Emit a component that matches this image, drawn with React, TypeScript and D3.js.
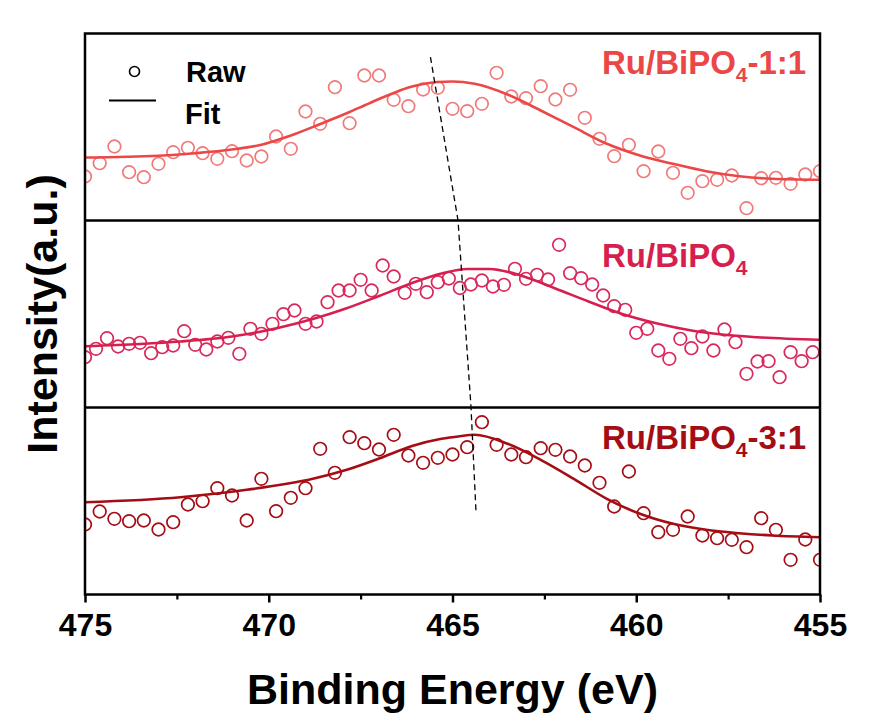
import React, { useEffect, useRef } from 'react';
import * as d3 from 'd3';

const W = 869;
const H = 722;

// ---- axis / ticks ----
const xDomain: [number, number] = [475, 455];
const majorTicks = [475, 470, 465, 460, 455];
const minorTicks = [472.5, 467.5, 462.5, 457.5];

// ---- raw data (binding energy grids) ----
const topStart = 475, topStep = 0.4;
const midStart = 475, midStep = 0.3;
const botStart = 475, botStep = 0.4;

// Ru/BiPO4-1:1 raw intensities (a.u.)
const topRaw = [44, 57.3, 74, 48.3, 43.3, 56.7, 68.3, 72.7, 67.3, 61.7, 69.3, 60, 64, 84, 71.7, 109, 96.7, 133.3, 97.3, 145, 145, 120.7, 114.3, 131, 132.7, 111.7, 109.3, 116.7, 147.7, 124, 122.3, 134.3, 121, 130.7, 102.7, 81.7, 64.3, 75.7, 49.3, 69, 47.7, 27.7, 39.3, 40.7, 45, 12.3, 42.3, 42.7, 36.7, 46, 49.3];
// Ru/BiPO4 raw intensities
const midRaw = [50.3, 58.7, 69.3, 61, 63.7, 64.7, 54.3, 60.3, 62, 76.3, 62.7, 58, 66, 69.7, 53.7, 78.7, 73.7, 83.7, 93.3, 97, 83.7, 86, 105.3, 117, 117, 127.7, 117, 142, 131, 114.7, 123.7, 115.3, 125.3, 129, 119.5, 123, 127, 121, 122.7, 138.7, 128.7, 132.7, 128, 162.7, 134.3, 129.3, 123, 112, 101.3, 97.7, 74.7, 78.7, 57, 48.7, 68.7, 59.3, 71, 57, 78, 65.3, 33.7, 46, 46.3, 30.3, 55.3, 46.3, 55.3];
// Ru/BiPO4-3:1 raw intensities
const botRaw = [70, 83, 75.7, 73.3, 74, 65, 72.3, 90, 93.3, 106.3, 99, 74, 115.7, 83.3, 96.7, 106.3, 145.7, 121.7, 157.3, 151.3, 145, 159.7, 139, 131.7, 136.7, 140, 147.3, 172.3, 149.7, 140, 137.3, 146.3, 144.7, 138, 129, 111.7, 88, 123, 81.3, 62.3, 64.7, 78, 59, 56.3, 54.7, 47.3, 76.3, 64.7, 34.7, 55, 34.7];

// ---- fit curves ----
const topFitE = [475, 473, 472, 471, 470.2, 469.4, 468.6, 467.8, 467.4, 467, 466.6, 466.2, 465.8, 465.4, 465, 464.4, 463.5, 462.6, 461.7, 460.8, 459.9, 459, 458.1, 457.2, 456.3, 455];
const topFitV = [63, 64.8, 67.3, 71, 75.8, 85, 96.5, 108.5, 115, 121.5, 127.5, 133, 136.5, 138.5, 139, 136.7, 126, 110, 93.3, 76.7, 65, 56.7, 49.3, 44.3, 41.7, 40.7];
const midFitE = [475, 473.5, 472.4, 471, 470.2, 469.7, 468.8, 467.9, 467, 466.1, 465.3, 464.6, 464, 463.1, 462.2, 461.3, 460.4, 459.4, 458.5, 457.6, 456.7, 455];
const midFitV = [61.3, 63.5, 66, 71, 76, 80, 88.5, 99, 111.5, 124.5, 134, 138.5, 138.5, 131.5, 119, 106, 93.7, 83.7, 77, 72.7, 70.3, 67.7];
const botFitE = [475, 472.4, 470.6, 468.8, 467.9, 467, 466.1, 465.3, 464.8, 464.4, 463.5, 462.6, 461.7, 460.8, 459.9, 459, 458.1, 457.2, 456.3, 455];
const botFitV = [92.3, 97.3, 104.7, 115.7, 124.5, 136, 148.5, 155.7, 158.3, 159.7, 150.7, 134.7, 115.7, 95.7, 80.7, 70.7, 64.7, 61.3, 59, 57.3];

// ---- peak shift guide ----
const dashE = [465.6, 464.85, 464.5, 464.36];
const dashFrac = [0.958, 0.667, 0.338, 0.147];

// ---- labels ----
const labelMain = ['Ru/BiPO', 'Ru/BiPO', 'Ru/BiPO'];
const labelSub = ['4', '4', '4'];
const labelSuffix = ['-1:1', '', '-3:1'];
const lineColors = ['#ec4747', '#d61f4f', '#a50d15'];
const dotColors = ['#f07a7a', '#d9295a', '#a50d15'];

const FONT = '"Liberation Sans", Arial, Helvetica, sans-serif';

const L = 85, R = 820, T = 33.5, B = 594.5;
const PH = (B - T) / 3;

export default function App() {
  const axRef = useRef<SVGGElement>(null);
  const minRef = useRef<SVGGElement>(null);

  const x = d3.scaleLinear().domain(xDomain).range([L, R]);
  const yAll = d3.scaleLinear().domain([0, 1]).range([B, T]);

  const panels = [
    { start: topStart, step: topStep, raw: topRaw, fe: topFitE, fv: topFitV },
    { start: midStart, step: midStep, raw: midRaw, fe: midFitE, fv: midFitV },
    { start: botStart, step: botStep, raw: botRaw, fe: botFitE, fv: botFitV },
  ];

  useEffect(() => {
    if (axRef.current) {
      const g = d3.select(axRef.current);
      g.call(
        d3.axisBottom(x).tickValues(majorTicks).tickSize(8).tickPadding(11).tickFormat(d3.format('d')) as any
      );
      g.select('.domain').remove();
      g.selectAll('line').attr('stroke', '#000').attr('stroke-width', 2.5);
      g.selectAll('text')
        .attr('font-size', 32)
        .attr('font-weight', 'bold')
        .attr('font-family', FONT)
        .attr('fill', '#000');
      g.attr('font-family', FONT);
    }
    if (minRef.current) {
      const g = d3.select(minRef.current);
      g.call(d3.axisBottom(x).tickValues(minorTicks).tickSize(5).tickFormat(() => '') as any);
      g.select('.domain').remove();
      g.selectAll('line').attr('stroke', '#000').attr('stroke-width', 2.2);
    }
  }, []);

  const dashLine = d3
    .line<number>()
    .x((e) => x(e))
    .y((_, i) => yAll(dashFrac[i]))(dashE);

  return (
    <svg width={W} height={H} style={{ position: 'absolute', left: 0, top: 0, background: '#fff' }} fontFamily={FONT}>
      <defs>
        <clipPath id="plotclip">
          <rect x={L} y={T} width={R - L} height={B - T} />
        </clipPath>
      </defs>
      <rect x={0} y={0} width={W} height={H} fill="#fff" />
      {panels.map((p, pi) => {
        const top = T + pi * PH;
        const y = d3.scaleLinear().domain([0, PH]).range([top + PH, top]);
        const fitPath = d3
          .line<number>()
          .x((e) => x(e))
          .y((_, i) => y(p.fv[i]))
          .curve(d3.curveMonotoneX)(p.fe.map((e) => e));
        return (
          <g key={pi} clipPath="url(#plotclip)">
            {p.raw.map((v, i) => (
              <circle
                key={i}
                cx={x(p.start - i * p.step)}
                cy={y(v)}
                r={6.3}
                fill="none"
                stroke={dotColors[pi]}
                strokeWidth={1.7}
              />
            ))}
            <path d={fitPath || ''} fill="none" stroke={lineColors[pi]} strokeWidth={2.6} />
          </g>
        );
      })}
      <path d={dashLine || ''} fill="none" stroke="#000" strokeWidth={1.3} strokeDasharray="6,4" />
      {/* panel labels */}
      {[0, 1, 2].map((pi) => {
        const baselines = [73.5, 266.7, 449.3];
        return (
          <text key={pi} x={602} y={baselines[pi]} fontSize={33} fontWeight="bold" fill={lineColors[pi]}>
            {labelMain[pi]}
            <tspan fontSize={21} dy={8}>{labelSub[pi]}</tspan>
            <tspan dy={-8}>{labelSuffix[pi]}</tspan>
          </text>
        );
      })}
      {/* legend */}
      <circle cx={134.5} cy={71.5} r={5} fill="none" stroke="#000" strokeWidth={1.6} />
      <line x1={109} x2={156} y1={100.5} y2={100.5} stroke="#000" strokeWidth={2} />
      <text x={186} y={82} fontSize={29} fontWeight="bold" fill="#000">Raw</text>
      <text x={185} y={124} fontSize={29} fontWeight="bold" fill="#000">Fit</text>
      {/* frames */}
      <rect x={L} y={T} width={R - L} height={B - T} fill="none" stroke="#000" strokeWidth={2.5} />
      {[1, 2].map((k) => (
        <line key={k} x1={L} x2={R} y1={T + k * PH} y2={T + k * PH} stroke="#000" strokeWidth={2.5} />
      ))}
      <g ref={minRef} transform={`translate(0,${B})`} />
      <g ref={axRef} transform={`translate(0,${B})`} />
      {/* axis titles */}
      <text x={(L + R) / 2} y={704} textAnchor="middle" fontSize={43} fontWeight="bold" fill="#000">
        Binding Energy (eV)
      </text>
      <text transform={`translate(57,${(T + B) / 2}) rotate(-90)`} textAnchor="middle" fontSize={43} fontWeight="bold" fill="#000">
        Intensity(a.u.)
      </text>
    </svg>
  );
}
